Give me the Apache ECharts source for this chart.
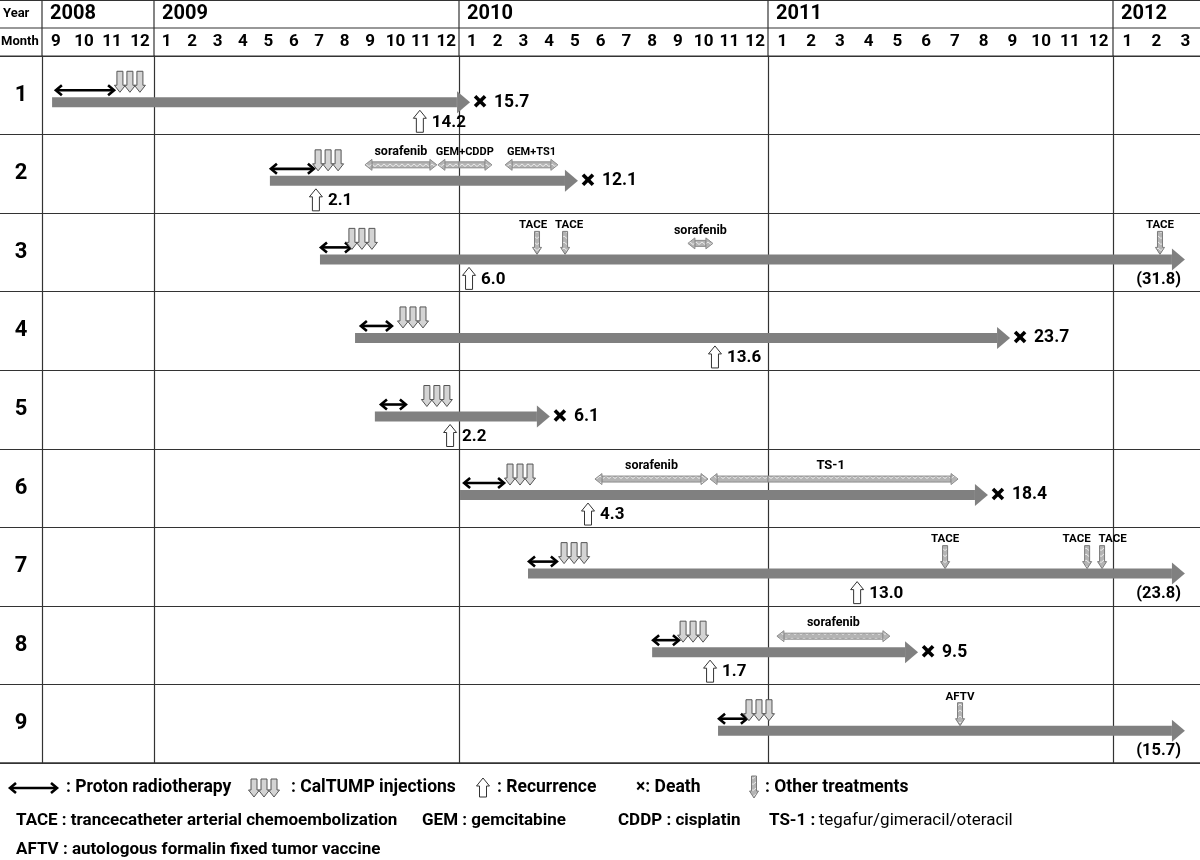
<!DOCTYPE html>
<html>
<head>
<meta charset="utf-8">
<title>Clinical course of patients</title>
<script src="https://cdn.jsdelivr.net/npm/echarts@6/dist/echarts.min.js"></script>
<style>
  html, body { margin: 0; padding: 0; background: #fff; }
  #chart { width: 1200px; height: 860px; }
</style>
</head>
<body>
<div id="chart"></div>
<script>
// time unit: months counted from 1 Sep 2008 (0 = start of Sep 2008)
const patients = ['1', '2', '3', '4', '5', '6', '7', '8', '9'];
const years = ['2008', '2009', '2010', '2011', '2012'];
const months = [
  [9, 10, 11, 12],
  [1, 2, 3, 4, 5, 6, 7, 8, 9, 10, 11, 12],
  [1, 2, 3, 4, 5, 6, 7, 8, 9, 10, 11, 12],
  [1, 2, 3, 4, 5, 6, 7, 8, 9, 10, 11, 12],
  [1, 2, 3]
];
const yearSpan = [[0, 4], [4, 16], [16, 28], [28, 40], [40, 43]];

// course of each patient
const courseStart = [0.36, 8.56, 10.53, 11.91, 12.69, 16.04, 18.68, 23.50, 26.06];
const courseEnd = [16.43, 20.62, 42.48, 36.42, 19.53, 35.65, 42.48, 33.22, 42.48];
const died = [1, 1, 0, 1, 1, 1, 0, 1, 0];
const survival = ['15.7', '12.1', '(31.8)', '23.7', '6.1', '18.4', '(23.8)', '9.5', '(15.7)'];

// proton radiotherapy and CalTUMP injections
const protonStart = [0.46, 8.56, 10.53, 12.10, 12.89, 16.16, 18.68, 23.50, 26.06];
const protonEnd = [2.61, 10.33, 11.79, 13.40, 13.95, 17.79, 19.84, 24.58, 27.22];
const caltumpAt = [3.14, 10.85, 12.18, 14.19, 15.13, 18.37, 20.47, 25.09, 27.65];

// recurrence (patient 9: none)
const recurrenceAt = [14.46, 10.37, 16.39, 25.94, 15.65, 21.01, 31.10, 25.75, null];
const recurrenceLabel = ['14.2', '2.1', '6.0', '13.6', '2.2', '4.3', '13.0', '1.7', null];

// drug courses (row = patient index)
const drugRow = [1, 1, 1, 2, 5, 5, 7];
const drugName = ['sorafenib', 'GEM+CDDP', 'GEM+TS1', 'sorafenib', 'sorafenib', 'TS-1', 'sorafenib'];
const drugStart = [12.30, 15.17, 17.79, 24.89, 21.28, 25.75, 28.31];
const drugEnd = [15.13, 17.28, 19.84, 25.86, 25.67, 34.61, 32.24];

// other single treatments
const txRow = [2, 2, 2, 6, 6, 6, 8];
const txName = ['TACE', 'TACE', 'TACE', 'TACE', 'TACE', 'TACE', 'AFTV'];
const txAt = [19.03, 20.12, 41.62, 34.16, 39.10, 39.62, 34.68];

// ---- layout ----
const COL = [42, 154, 459, 768, 1113, 1200];   // year column edges
const TOP = 56, BOT = 763;
const FONT = 'Roboto, "Open Sans", sans-serif';
const LINE = '#333';
const BAR_DY = 7;

// light grey zig-zag fill for the drug arrows
function hatch() {
  const c = document.createElement('canvas');
  c.width = 6; c.height = 6;
  const g = c.getContext('2d');
  g.fillStyle = '#b4b4b4';
  g.fillRect(0, 0, 6, 6);
  g.strokeStyle = '#ececec';
  g.lineWidth = 1;
  g.beginPath(); g.moveTo(0, 2); g.lineTo(3, 4.5); g.lineTo(6, 2); g.stroke();
  return c;
}
const HATCH = { image: hatch(), repeat: 'repeat' };

function owns(k, t) {
  return t >= yearSpan[k][0] && (t < yearSpan[k][1] || k === 4);
}

function txt(text, x, y, size, align, weight) {
  return {
    type: 'text',
    style: {
      text: text, x: x, y: y,
      font: (weight || 'bold') + ' ' + size + 'px ' + FONT,
      fill: '#000',
      textAlign: align || 'left',
      textVerticalAlign: 'middle'
    }
  };
}

function hline(x1, x2, y, w) {
  return { type: 'line', shape: { x1: x1, y1: y, x2: x2, y2: y }, style: { stroke: LINE, lineWidth: w || 1.2 } };
}
function vline(x, y1, y2, w) {
  return { type: 'line', shape: { x1: x, y1: y1, x2: x, y2: y2 }, style: { stroke: LINE, lineWidth: w || 1.2 } };
}

// vertical block arrow; dir 1 = down, -1 = up
function blockArrow(cx, top, bottom, shaftW, headW, headH, fill, stroke, dir) {
  const s = shaftW / 2, hw = headW / 2;
  let pts;
  if (dir > 0) {
    const hy = bottom - headH;
    pts = [[cx - s, top], [cx + s, top], [cx + s, hy], [cx + hw, hy], [cx, bottom], [cx - hw, hy], [cx - s, hy]];
  } else {
    const hy = top + headH;
    pts = [[cx - s, bottom], [cx + s, bottom], [cx + s, hy], [cx + hw, hy], [cx, top], [cx - hw, hy], [cx - s, hy]];
  }
  return { type: 'polygon', shape: { points: pts }, style: { fill: fill, stroke: stroke, lineWidth: 1 } };
}

function protonShape(x0, x1, y) {
  const st = { stroke: '#000', lineWidth: 2.6, fill: null };
  return [
    { type: 'line', shape: { x1: x0 + 2, y1: y, x2: x1 - 2, y2: y }, style: st },
    { type: 'polyline', shape: { points: [[x0 + 7, y - 5], [x0 + 1, y], [x0 + 7, y + 5]] }, style: st },
    { type: 'polyline', shape: { points: [[x1 - 7, y - 5], [x1 - 1, y], [x1 - 7, y + 5]] }, style: st }
  ];
}

function caltumpShape(cx, top, bottom) {
  const out = [];
  for (let j = -1; j <= 1; j++) {
    out.push(blockArrow(cx + j * 10, top, bottom, 6, 11, 7, '#d4d4d4', '#555', 1));
  }
  return out;
}

function recurrenceShape(cx, top, bottom) {
  return blockArrow(cx, top, bottom, 7, 13, 8, '#fff', '#333', -1);
}

function treatShape(cx, top, bottom) {
  return blockArrow(cx, top, bottom, 5, 9, 7, HATCH, '#7a7a7a', 1);
}

function crossShape(cx, cy, r, w) {
  const st = { stroke: '#000', lineWidth: w };
  return [
    { type: 'line', shape: { x1: cx - r, y1: cy - r, x2: cx + r, y2: cy + r }, style: st },
    { type: 'line', shape: { x1: cx - r, y1: cy + r, x2: cx + r, y2: cy - r }, style: st }
  ];
}

function clipTo(params, rect) {
  const cs = params.coordSys;
  return echarts.graphic.clipRectByRect(rect, { x: cs.x, y: cs.y, width: cs.width, height: cs.height });
}

// ---- render functions ----
function renderCourse(k) {
  return function (params, api) {
    const i = api.value(2);
    const t0 = api.value(0), t1 = api.value(1);
    const p0 = api.coord([t0, i]), p1 = api.coord([t1, i]);
    const y = p0[1] + BAR_DY;
    const tip = p1[0], headL = 13;
    const children = [];
    const body = clipTo(params, { x: p0[0], y: y - 5, width: tip - headL - p0[0], height: 10 });
    if (body) children.push({ type: 'rect', shape: body, style: { fill: '#808080' } });
    if (owns(k, t1)) {
      children.push({ type: 'polygon', shape: { points: [[tip - headL, y - 11], [tip, y], [tip - headL, y + 11]] }, style: { fill: '#808080' } });
      if (died[i]) {
        children.push.apply(children, crossShape(tip + 10, y - 1, 5, 3.6));
        children.push(txt(survival[i], tip + 24, y, 17.5));
      } else {
        children.push(txt(survival[i], tip - 4, y + 20, 16.5, 'right'));
      }
    }
    return { type: 'group', children: children };
  };
}

function renderProton(k) {
  return function (params, api) {
    const t0 = api.value(0);
    if (!owns(k, t0)) return;
    const i = api.value(2);
    const a = api.coord([t0, i]), b = api.coord([api.value(1), i]);
    return { type: 'group', children: protonShape(a[0], b[0], a[1] + BAR_DY - 12) };
  };
}

function renderCaltump(k) {
  return function (params, api) {
    const t = api.value(0);
    if (!owns(k, t)) return;
    const p = api.coord([t, api.value(1)]);
    const y = p[1] + BAR_DY;
    return { type: 'group', children: caltumpShape(p[0], y - 31, y - 10) };
  };
}

function renderRecurrence(k) {
  return function (params, api) {
    const t = api.value(0);
    if (!owns(k, t)) return;
    const i = api.value(1);
    const p = api.coord([t, i]);
    const y = p[1] + BAR_DY;
    return {
      type: 'group',
      children: [recurrenceShape(p[0], y + 8, y + 30), txt(recurrenceLabel[i], p[0] + 12, y + 20, 17)]
    };
  };
}

function renderDrug(k) {
  return function (params, api) {
    const j = params.dataIndex;
    const t0 = api.value(0), t1 = api.value(1), row = api.value(2);
    const a = api.coord([t0, row]), b = api.coord([t1, row]);
    const y = a[1] + BAR_DY - 16;
    const hl = 7, hh = 5.5, th = 3;
    const stroke = '#8c8c8c';
    const children = [];
    const body = clipTo(params, { x: a[0] + hl, y: y - th, width: b[0] - a[0] - 2 * hl, height: 2 * th });
    if (body) children.push({ type: 'rect', shape: body, style: { fill: HATCH, stroke: stroke, lineWidth: 1 } });
    if (owns(k, t0)) {
      children.push({ type: 'polygon', shape: { points: [[a[0] + hl, y - hh], [a[0], y], [a[0] + hl, y + hh]] }, style: { fill: HATCH, stroke: stroke, lineWidth: 1 } });
    }
    if (owns(k, t1)) {
      children.push({ type: 'polygon', shape: { points: [[b[0] - hl, y - hh], [b[0], y], [b[0] - hl, y + hh]] }, style: { fill: HATCH, stroke: stroke, lineWidth: 1 } });
    }
    const mid = (t0 + t1) / 2;
    if (owns(k, mid)) {
      const name = drugName[j];
      const size = name.indexOf('+') >= 0 ? 11 : (name.length < 5 ? 13 : 12.5);
      const m = api.coord([mid, row]);
      children.push(txt(name, m[0], y - 13, size, 'center'));
    }
    return { type: 'group', children: children };
  };
}

function renderTreat(k) {
  return function (params, api) {
    const j = params.dataIndex;
    const t = api.value(0);
    if (!owns(k, t)) return;
    const row = api.value(1);
    const p = api.coord([t, row]);
    const y = p[1] + BAR_DY;
    // push apart the labels of treatments that sit close together
    let dx = 0;
    for (let o = 0; o < txAt.length; o++) {
      if (o === j || txRow[o] !== txRow[j]) continue;
      const gap = Math.abs(api.coord([txAt[o], row])[0] - p[0]);
      if (gap < 36) dx = (txAt[o] > t ? -1 : 1) * (36 - gap) / 2;
    }
    return {
      type: 'group',
      children: [treatShape(p[0], y - 28, y - 5), txt(txName[j], p[0] + dx, y - 34, 11.5, 'center')]
    };
  };
}

// ---- build grids, axes, series ----
const grids = [], xAxes = [], yAxes = [], series = [];
const courseData = patients.map((p, i) => [courseStart[i], courseEnd[i], i]);
const protonData = patients.map((p, i) => [protonStart[i], protonEnd[i], i]);
const caltumpData = patients.map((p, i) => [caltumpAt[i], i]);
const recurrenceData = [];
recurrenceAt.forEach((t, i) => { if (t !== null) recurrenceData.push([t, i]); });
const drugData = drugStart.map((s, j) => [s, drugEnd[j], drugRow[j]]);
const txData = txAt.map((t, j) => [t, txRow[j]]);

for (let k = 0; k < 5; k++) {
  grids.push({ left: COL[k], top: TOP, width: COL[k + 1] - COL[k], height: BOT - TOP });
  xAxes.push({ type: 'value', gridIndex: k, min: yearSpan[k][0], max: yearSpan[k][1], show: false });
  xAxes.push({
    type: 'category', gridIndex: k, position: 'top', data: months[k],
    axisLine: { show: false }, axisTick: { show: false }, splitLine: { show: false },
    axisLabel: { interval: 0, margin: 6, fontSize: 17, fontWeight: 'bold', color: '#000', fontFamily: FONT }
  });
  yAxes.push({
    type: 'category', gridIndex: k, data: patients, inverse: true,
    axisLine: { show: true, onZero: false, lineStyle: { color: LINE, width: 1.2 } },
    axisTick: { show: false }, axisLabel: { show: false },
    splitLine: { show: true, lineStyle: { color: LINE, width: 1.2 } }
  });
  const base = { type: 'custom', coordinateSystem: 'cartesian2d', xAxisIndex: 2 * k, yAxisIndex: k, silent: true, animation: false };
  series.push(Object.assign({}, base, { name: 'course', renderItem: renderCourse(k), encode: { x: [0, 1], y: 2 }, data: courseData, z: 2 }));
  series.push(Object.assign({}, base, { name: 'drug', renderItem: renderDrug(k), encode: { x: [0, 1], y: 2 }, data: drugData, z: 3 }));
  series.push(Object.assign({}, base, { name: 'proton', renderItem: renderProton(k), encode: { x: [0, 1], y: 2 }, data: protonData, z: 4 }));
  series.push(Object.assign({}, base, { name: 'caltump', renderItem: renderCaltump(k), encode: { x: 0, y: 1 }, data: caltumpData, z: 4 }));
  series.push(Object.assign({}, base, { name: 'recurrence', renderItem: renderRecurrence(k), encode: { x: 0, y: 1 }, data: recurrenceData, z: 4 }));
  series.push(Object.assign({}, base, { name: 'treatment', renderItem: renderTreat(k), encode: { x: 0, y: 1 }, data: txData, z: 4 }));
}
// patient number column
grids.push({ left: 0, top: TOP, width: COL[0], height: BOT - TOP });
xAxes.push({ type: 'value', gridIndex: 5, min: 0, max: 1, show: false });
yAxes.push({
  type: 'category', gridIndex: 5, data: patients, inverse: true,
  axisLine: { show: false }, axisTick: { show: false },
  axisLabel: { inside: true, margin: 21, align: 'center', fontSize: 22, fontWeight: 'bold', color: '#000', fontFamily: FONT },
  splitLine: { show: true, lineStyle: { color: LINE, width: 1.2 } }
});

// ---- header lines & labels, legend ----
const graphic = [
  hline(0, 1200, 0.5), hline(0, 1200, 28), hline(0, 1200, TOP), hline(0, 1200, BOT, 1.6),
  txt('Year', 3, 14, 13), txt('Month', 1, 42, 13)
];
for (let k = 0; k < 5; k++) {
  graphic.push(vline(COL[k], 0, TOP));
  graphic.push(txt(years[k], COL[k] + 8, 14, 20));
}

// legend
const L1 = 788, L2 = 821, L3 = 850, LF = 17.5;
graphic.push.apply(graphic, protonShape(9, 58, L1));
graphic.push(txt(': Proton radiotherapy', 66, L1, LF));
graphic.push.apply(graphic, caltumpShape(264, 779, 797));
graphic.push(txt(': CalTUMP injections', 291, L1, LF));
graphic.push(recurrenceShape(483, 778, 797));
graphic.push(txt(': Recurrence', 497, L1, LF));
graphic.push(txt('\u00d7: Death', 636, L1, LF));
graphic.push(treatShape(754, 776, 798));
graphic.push(txt(': Other treatments', 765, L1, LF));

graphic.push(txt('TACE : trancecatheter arterial chemoembolization', 16, L2, 17));
graphic.push(txt('GEM : gemcitabine', 422, L2, 17));
graphic.push(txt('CDDP : cisplatin', 618, L2, 17));
graphic.push({
  type: 'text',
  style: {
    text: '{b|TS-1 :} {r|tegafur/gimeracil/oteracil}', x: 769, y: L2,
    textVerticalAlign: 'middle', textAlign: 'left',
    rich: {
      b: { font: 'bold 17px ' + FONT, fill: '#000' },
      r: { font: '17px ' + FONT, fill: '#000' }
    }
  }
});
graphic.push(txt('AFTV : autologous formalin fixed tumor vaccine', 16, L3, 17));

const chart = echarts.init(document.getElementById('chart'), null, { renderer: 'canvas' });
chart.setOption({
  backgroundColor: '#fff',
  animation: false,
  grid: grids,
  xAxis: xAxes,
  yAxis: yAxes,
  series: series,
  graphic: graphic
});
</script>
</body>
</html>
